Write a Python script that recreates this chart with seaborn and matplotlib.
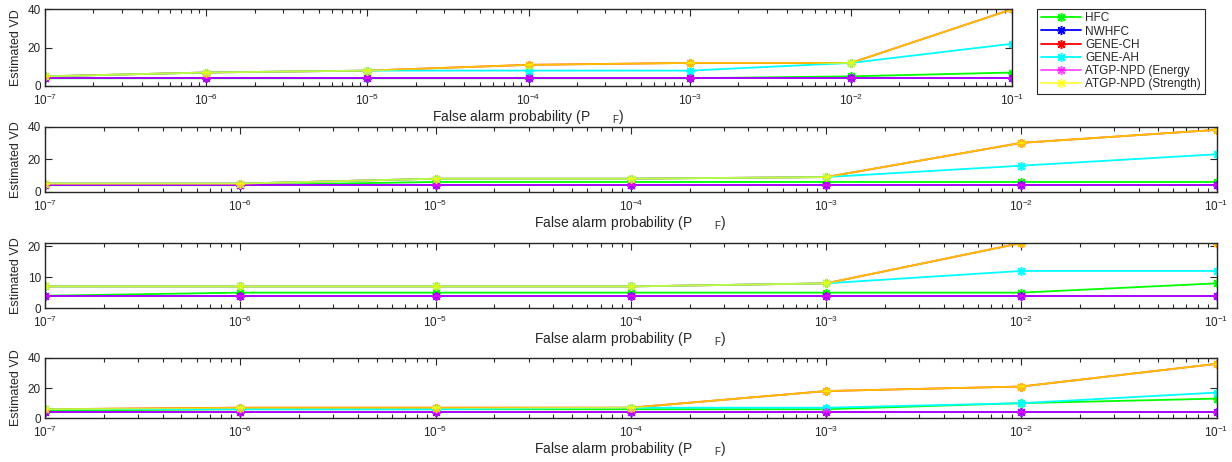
import numpy as np
import pandas as pd
import matplotlib
matplotlib.use('Agg')
import matplotlib.pyplot as plt
from matplotlib.ticker import LogLocator, NullFormatter, FixedLocator
import seaborn as sns

sns.set_style('ticks')
plt.rcParams['font.family'] = ['Liberation Sans', 'DejaVu Sans']

# false alarm probabilities (x axis)
pf = [1e-7, 1e-6, 1e-5, 1e-4, 1e-3, 1e-2, 1e-1]

methods = ['HFC', 'NWHFC', 'GENE-CH', 'GENE-AH',
           'ATGP-NPD (Energy', 'ATGP-NPD (Strength)']
colors = ['#00ff00', '#0000ff', '#ff0000', '#00ffff', '#ff00ff', '#ffff00']
alphas = [1.0, 1.0, 1.0, 1.0, 0.7, 0.75]

# panel 1
hfc_1 = [4, 4, 4, 4, 4, 5, 7]
nwhfc_1 = [4, 4, 4, 4, 4, 4, 4]
gene_ch_1 = [5, 7, 8, 11, 12, 12, 40]
gene_ah_1 = [5, 7, 8, 8, 8, 12, 22]
atgp_energy_1 = [4, 4, 4, 4, 4, 4, 4]
atgp_strength_1 = [5, 7, 8, 11, 12, 12, 40]

# panel 2
hfc_2 = [4, 4, 6, 6, 6, 6, 6]
nwhfc_2 = [4, 4, 4, 4, 4, 4, 4]
gene_ch_2 = [5, 5, 8, 8, 9, 30, 38]
gene_ah_2 = [5, 5, 8, 8, 9, 16, 23]
atgp_energy_2 = [4, 4, 4, 4, 4, 4, 4]
atgp_strength_2 = [5, 5, 8, 8, 9, 30, 38]

# panel 3
hfc_3 = [4, 5, 5, 5, 5, 5, 8]
nwhfc_3 = [4, 4, 4, 4, 4, 4, 4]
gene_ch_3 = [7, 7, 7, 7, 8, 21, 21]
gene_ah_3 = [7, 7, 7, 7, 8, 12, 12]
atgp_energy_3 = [4, 4, 4, 4, 4, 4, 4]
atgp_strength_3 = [7, 7, 7, 7, 8, 21, 21]

# panel 4
hfc_4 = [5, 6, 6, 6, 6, 10, 13]
nwhfc_4 = [4, 4, 4, 4, 4, 4, 4]
gene_ch_4 = [6, 7, 7, 7, 18, 21, 36]
gene_ah_4 = [6, 6, 6, 7, 7, 10, 17]
atgp_energy_4 = [4, 4, 4, 4, 4, 4, 4]
atgp_strength_4 = [6, 7, 7, 7, 18, 21, 36]

panels = [
    [hfc_1, nwhfc_1, gene_ch_1, gene_ah_1, atgp_energy_1, atgp_strength_1],
    [hfc_2, nwhfc_2, gene_ch_2, gene_ah_2, atgp_energy_2, atgp_strength_2],
    [hfc_3, nwhfc_3, gene_ch_3, gene_ah_3, atgp_energy_3, atgp_strength_3],
    [hfc_4, nwhfc_4, gene_ch_4, gene_ah_4, atgp_energy_4, atgp_strength_4],
]
ylims = [40, 40, 21, 40]
yticks = [[0, 20, 40], [0, 20, 40], [0, 10, 20], [0, 20, 40]]

# axes rectangles [left, bottom, width, height] in figure fractions
rects = [
    [0.0365, 0.814, 0.785, 0.166],
    [0.0365, 0.585, 0.951, 0.141],
    [0.0365, 0.333, 0.951, 0.141],
    [0.0365, 0.0946, 0.951, 0.131],
]

asterisk = (8, 2, 0)

fig = plt.figure(figsize=(12.32, 4.62), dpi=100)

handles = None
for p, series in enumerate(panels):
    ax = fig.add_axes(rects[p])
    for name, vals, c, a in zip(methods, series, colors, alphas):
        df = pd.DataFrame({'pf': pf, 'vd': vals})
        sns.lineplot(data=df, x='pf', y='vd', ax=ax, color=c, alpha=a,
                     marker=asterisk, markersize=6.5, markeredgewidth=1.1,
                     markeredgecolor=c, linewidth=1.3, label=name)
    ax.set_xscale('log')
    ax.set_xlim(1e-7, 1e-1)
    ax.set_ylim(0, ylims[p])
    ax.set_yticks(yticks[p])
    ax.xaxis.set_major_locator(FixedLocator(pf))
    ax.xaxis.set_minor_locator(LogLocator(base=10, subs=np.arange(2, 10), numticks=10))
    ax.xaxis.set_minor_formatter(NullFormatter())
    ax.tick_params(which='both', direction='in', top=True, right=True,
                   labelsize=8.5, color='#262626', width=0.8)
    ax.tick_params(axis='y', pad=3)
    ax.tick_params(axis='x', pad=5)
    ax.tick_params(which='major', length=5)
    ax.tick_params(which='minor', length=3)
    for s in ax.spines.values():
        s.set_linewidth(1.0)
        s.set_color('#262626')
    ax.set_ylabel('Estimated VD', fontsize=9)
    ax.yaxis.set_label_coords(0.0178, rects[p][1] + rects[p][3] / 2,
                              transform=fig.transFigure)
    ax.set_xlabel('False alarm probability (P      $_{\\mathregular{F}}$)',
                  fontsize=10, labelpad=0)
    if p == 0:
        handles, labels = ax.get_legend_handles_labels()
    ax.get_legend().remove()

leg = fig.legend(handles, methods, loc='upper left',
                 bbox_to_anchor=(0.8417, 0.981), borderaxespad=0,
                 fontsize=8.5, handlelength=3.4, labelspacing=0.1,
                 borderpad=0.3, handletextpad=0.4, fancybox=False,
                 framealpha=1)
leg.get_frame().set_edgecolor('#262626')
leg.get_frame().set_linewidth(0.8)

fig.savefig('out.png', dpi=100)
